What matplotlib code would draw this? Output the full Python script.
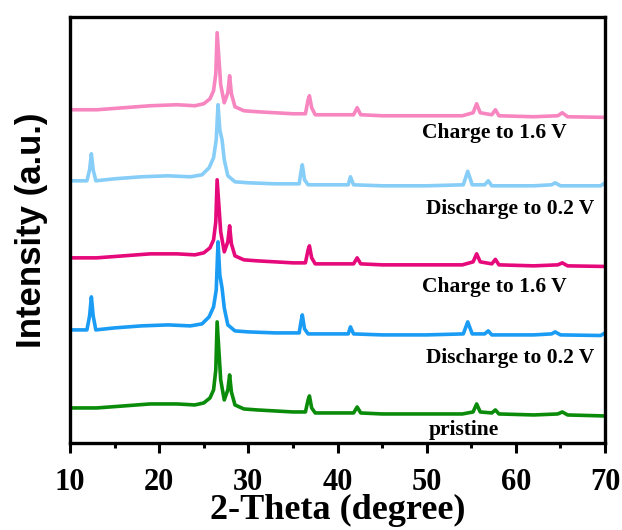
import matplotlib
matplotlib.use("Agg")
import matplotlib.pyplot as plt
from matplotlib.ticker import MultipleLocator, NullLocator

# 2-theta vertices and intensities (a.u., stacked)
x_pristine = [10, 13, 16, 19, 22, 24, 25, 25.7, 26.1, 26.35, 26.5, 26.9, 27.3, 27.7,
              27.9, 28.1, 28.5, 29.5, 31, 33, 35, 36.4, 36.7, 36.85, 37.1, 37.5, 40,
              41.8, 42.2, 42.6, 45, 50, 54, 55.2, 55.6, 56, 57.3, 57.7, 58.1, 62,
              64.7, 65.2, 65.8, 70]
y_pristine = [35, 35, 37, 39, 39, 38, 40, 45, 53, 73, 121, 63, 43, 53,
              68, 51, 38, 34, 33, 32, 31, 31, 43, 47, 35, 30, 30,
              30, 36, 30, 29, 29, 29, 31, 39, 31, 30, 33, 29, 28,
              29, 31, 28, 27]

x_charge1 = x_pristine
y_charge1 = [185, 185, 187, 189, 189, 188, 190, 195, 203, 221, 263, 211, 191, 201,
             217, 199, 187, 183, 182, 181, 180, 180, 193, 197, 185, 179, 179,
             179, 185, 179, 178, 178, 178, 181, 189, 181, 179, 183.5, 178, 177,
             178, 180, 177, 176.4]

x_charge2 = x_pristine
y_charge2 = [333, 333, 335, 337, 338, 337, 339, 344, 352, 369, 410, 358, 340, 350,
             367, 349, 336, 332, 331, 330, 329, 329, 343, 347, 335, 328, 328,
             328, 335, 328, 327, 327, 327, 330, 339, 330, 328, 333, 327, 326,
             327, 330, 326, 325.4]

x_discharge = [10, 11.9, 12.2, 12.4, 12.6, 12.9, 15, 18, 21, 23.5, 24.8, 25.6, 26.1,
               26.4, 26.6, 26.8, 27.05, 27.3, 27.7, 28.5, 30, 33, 35.7, 35.9, 36.05,
               36.3, 36.7, 40, 41.2, 41.45, 41.8, 45, 50, 54.1, 54.6, 55.1, 56.5,
               56.9, 57.3, 62, 64.0, 64.4, 65, 69.5, 70]
y_discharge1 = [113, 113, 127, 146, 127, 113, 115, 117, 118, 117, 119, 126, 136,
                153, 201, 168, 155, 135, 118, 112, 111, 110, 110, 121, 128,
                114, 109, 109, 109, 116, 109, 108, 108, 109, 121, 109, 109,
                112, 108, 108, 109, 111, 108, 107.4, 110]
y_discharge2 = [262, 262, 273, 289, 273, 262, 264, 266, 267, 266, 268, 275, 285,
                303, 338, 313, 303, 283, 267, 261, 260, 259, 259, 271, 278,
                263, 258, 258, 258, 266, 258, 257, 257, 258, 271.5, 258, 258,
                262, 257, 257, 258, 260, 257, 257, 260]

labels = ["pristine", "Discharge to 0.2 V", "Charge to 1.6 V",
          "Discharge to 0.2 V", "Charge to 1.6 V"]
label_x = [54.2, 59.35, 57.55, 59.35, 57.55]
label_y = [13, 85, 156, 234, 310]

fig = plt.figure(figsize=(6.22, 5.30), dpi=100)
ax = fig.add_axes([0.1125, 0.1642, 0.8603, 0.8043])

ax.plot(x_pristine, y_pristine, color='#0a8c0a', lw=2.6)
ax.plot(x_discharge, y_discharge1, color='#1a9cf5', lw=2.6)
ax.plot(x_charge1, y_charge1, color='#e6097c', lw=2.6)
ax.plot(x_discharge, y_discharge2, color='#86cdf7', lw=2.6)
ax.plot(x_charge2, y_charge2, color='#f785c0', lw=2.6)

for t, lx, ly in zip(labels, label_x, label_y):
    ax.text(lx, ly, t, ha='center', va='center', fontsize=15.5,
            fontweight='bold', family='Liberation Serif')

ax.set_xlim(10, 70)
ax.set_ylim(0, 426)
ax.xaxis.set_major_locator(MultipleLocator(10))
ax.xaxis.set_minor_locator(MultipleLocator(5))
ax.yaxis.set_major_locator(NullLocator())
ax.tick_params(axis='x', which='major', direction='out', length=7, width=2.2,
               labelsize=22, pad=11)
ax.tick_params(axis='x', which='minor', direction='out', length=3.5, width=2.2)
for lab in ax.get_xticklabels():
    lab.set_family('Liberation Serif')
    lab.set_fontweight('bold')
for sp in ax.spines.values():
    sp.set_linewidth(2.4)

ax.set_xlabel("2-Theta (degree)", fontsize=26, fontweight='bold',
              family='Liberation Serif', labelpad=-2)
ax.set_ylabel("Intensity (a.u.)", fontsize=25, fontweight='bold',
              family='Liberation Sans')
ax.yaxis.set_label_coords(-0.041, 0.5)

fig.savefig("out.png", dpi=100)
